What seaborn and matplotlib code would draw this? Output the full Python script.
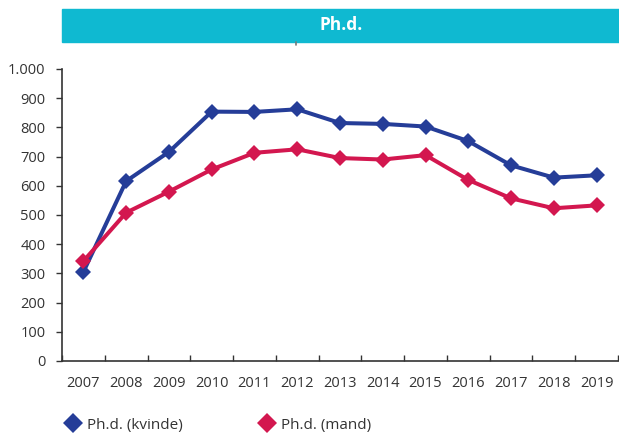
import pandas as pd
import matplotlib
matplotlib.use("Agg")
import matplotlib.pyplot as plt
import seaborn as sns
from matplotlib.lines import Line2D
from matplotlib.patches import Rectangle
from matplotlib.ticker import FuncFormatter, FixedLocator

years = [2007, 2008, 2009, 2010, 2011, 2012, 2013, 2014, 2015, 2016, 2017, 2018, 2019]
kvinde = [305, 616, 716, 854, 853, 862, 815, 812, 803, 753, 670, 628, 636]
mand = [342, 508, 580, 656, 713, 725, 695, 690, 705, 620, 557, 523, 533]
series_names = ["Ph.d. (kvinde)", "Ph.d. (mand)"]
title = "Ph.d."

blue = "#253D98"
red = "#D3174F"
bar_color = "#0FB9D1"

df = pd.DataFrame({
    "year": years * 2,
    "value": kvinde + mand,
    "serie": [series_names[0]] * len(years) + [series_names[1]] * len(years),
})

sns.set_style("white")
plt.rcParams["font.family"] = ["Open Sans", "DejaVu Sans"]

fig = plt.figure(figsize=(6.19, 4.34), dpi=100)
ax = fig.add_axes([62 / 619, 1 - 361 / 434, 556 / 619, 292 / 434])

sns.lineplot(data=df, x="year", y="value", hue="serie",
             palette={series_names[0]: blue, series_names[1]: red},
             marker="D", markersize=8.5, markeredgewidth=0,
             linewidth=2.9, ax=ax, legend=False)

ax.set_xlim(years[0] - 0.5, years[-1] + 0.5)
ax.set_ylim(0, 1000)
ax.set_xlabel("")
ax.set_ylabel("")

ax.set_yticks(range(0, 1001, 100))
ax.yaxis.set_major_formatter(FuncFormatter(lambda v, p: f"{int(v):,}".replace(",", ".")))
ax.set_xticks(years)
ax.set_xticklabels([str(y) for y in years])
ax.xaxis.set_minor_locator(FixedLocator([y + 0.5 for y in [years[0] - 1] + years]))

ax.tick_params(axis="y", which="major", direction="out", length=4, width=1,
               color="#333333", labelsize=10.5, labelcolor="#333333", pad=8, left=True)
ax.tick_params(axis="x", which="major", length=0, labelsize=10.5, labelcolor="#333333", pad=11)
ax.tick_params(axis="x", which="minor", direction="in", length=4, width=1,
               color="#333333", bottom=True)

for s in ["top", "right"]:
    ax.spines[s].set_visible(False)
for s in ["left", "bottom"]:
    ax.spines[s].set_color("#333333")
    ax.spines[s].set_linewidth(1.2)

# title bar
fig.patches.append(Rectangle((62 / 619, 1 - 42 / 434), 557 / 619, 33 / 434,
                             transform=fig.transFigure, color=bar_color, zorder=0))
fig.text(341 / 619, 1 - 25 / 434, title, color="white", fontsize=12.5,
         fontweight="bold", ha="center", va="center")
fig.lines.append(Line2D([296 / 619, 296 / 619], [1 - 42 / 434, 1 - 45 / 434],
                        transform=fig.transFigure, color="#777777", lw=1.2))

handles = [Line2D([], [], marker="D", linestyle="", color=c, markersize=10.5,
                  markeredgewidth=0) for c in (blue, red)]
fig.legend(handles, series_names, loc="center left", bbox_to_anchor=(65 / 619, 1 - 425 / 434),
           ncol=2, frameon=False, fontsize=11, handlelength=1, handletextpad=0.45,
           columnspacing=5.0, borderpad=0, borderaxespad=0, labelcolor="#333333")

fig.savefig("out.png", dpi=100)
